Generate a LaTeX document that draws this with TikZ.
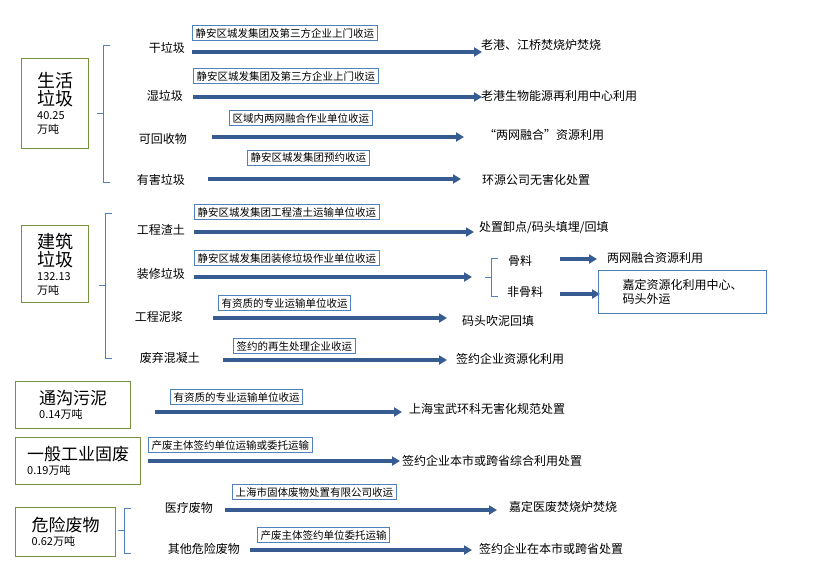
\documentclass[tikz,border=0pt]{standalone}
\usepackage{fontspec}
\newfontfamily\cjk{Noto Sans CJK SC}
\usetikzlibrary{arrows.meta,positioning}
\definecolor{flowblue}{RGB}{54,92,145}
\definecolor{boxblue}{RGB}{79,129,189}
\definecolor{groupgreen}{RGB}{118,146,60}
\newcommand{\grpbig}{\fontsize{18}{22}\selectfont}
\newcommand{\grpmid}{\fontsize{17}{20}\selectfont}
\newcommand{\grpsml}{\fontsize{11}{13}\selectfont}
\tikzset{
  every node/.style={font=\cjk\fontsize{12}{14}\selectfont,inner sep=1pt},
  flow/.style={draw=flowblue,line width=3.2pt,-{Triangle[length=8pt,width=9pt]}},
  carrier/.style={draw=boxblue,line width=1pt,fill=white,font=\cjk\fontsize{10.5}{12}\selectfont,inner sep=3pt,anchor=west},
  group/.style={draw=groupgreen,line width=1.3pt,align=left,anchor=north west,inner sep=4pt},
  brace/.style={draw=boxblue,line width=1pt},
  item/.style={anchor=east},
  dest/.style={anchor=west}
}
% horizontal arrow between two named coordinates
\newcommand{\flowarrow}[4]{%
  \coordinate (#1s) at (#2,#4);
  \coordinate (#1e) at (#3,#4);
  \draw[flow] (#1s) -- (#1e);}
% bracket with a tick in the middle
\newcommand{\bracket}[4]{%
  \draw[brace] (#1+7,#2) -- (#1,#2) -- (#1,#3) -- (#1+7,#3);
  \draw[brace] (#1,#4) -- (#1-6,#4);}
\begin{document}
\begin{tikzpicture}[x=1pt,y=-1pt]
\useasboundingbox (0,0) rectangle (818,571);
% ---- groups
\node[group,minimum width=67,minimum height=90] (life) at (21,58) {\grpbig 生活\\\grpbig 垃圾\\\grpsml 40.25\\\grpsml 万吨};
\node[group,minimum width=67,minimum height=77] (build) at (21,225) {\grpbig 建筑\\\grpbig 垃圾\\\grpsml 132.13\\\grpsml 万吨};
\node[group,minimum width=115,minimum height=47] (sludge) at (15,381) {\grpmid 通沟污泥\\\grpsml 0.14万吨};
\node[group,minimum width=125,minimum height=47] (indus) at (15,437) {\grpmid 一般工业固废\\\grpsml 0.19万吨};
\node[group,minimum width=100,minimum height=49] (hazard) at (15,507) {\grpmid 危险废物\\\grpsml 0.62万吨};
% ---- brackets
\bracket{103}{45}{182}{113}
\bracket{105}{213}{358}{285}
\bracket{124}{508}{553}{530}
\bracket{491}{258}{296}{277}
% ---- 生活垃圾
\node[item] (dry) at (186,48) {干垃圾};
\flowarrow{dryf}{192}{482}{52}
\node[carrier] (dryc) at (192,33) {静安区城发集团及第三方企业上门收运};
\node[dest] (dryd) at (480,45) {老港、江桥焚烧炉焚烧};
\node[item] (wet) at (184,96) {湿垃圾};
\flowarrow{wetf}{193}{482}{97}
\node[carrier] (wetc) at (193,76) {静安区城发集团及第三方企业上门收运};
\node[dest] (wetd) at (480,96) {老港生物能源再利用中心利用};
\node[item] (recy) at (188,139) {可回收物};
\flowarrow{recyf}{212}{464}{137}
\node[carrier] (recyc) at (229,118) {区域内两网融合作业单位收运};
\node[dest] (recyd) at (483,135) {“两网融合”资源利用};
\node[item] (harm) at (186,180) {有害垃圾};
\flowarrow{harmf}{208}{461}{179}
\node[carrier] (harmc) at (247,158) {静安区城发集团预约收运};
\node[dest] (harmd) at (481,180) {环源公司无害化处置};
% ---- 建筑垃圾
\node[item] (muck) at (186,230) {工程渣土};
\flowarrow{muckf}{194}{474}{232}
\node[carrier] (muckc) at (194,212) {静安区城发集团工程渣土运输单位收运};
\node[dest] (muckd) at (478,228) {处置卸点/码头填埋/回填};
\node[item] (deco) at (186,274) {装修垃圾};
\flowarrow{decof}{194}{472}{277}
\node[carrier] (decoc) at (194,258) {静安区城发集团装修垃圾作业单位收运};
\node (agg) at (520,261) {骨料};
\node (nagg) at (525,292) {非骨料};
\flowarrow{aggf}{560}{597}{259}
\flowarrow{naggf}{560}{600}{294}
\node[dest] (aggd) at (606,258) {两网融合资源利用};
\node[draw=boxblue,line width=1pt,align=left,anchor=north west,inner sep=3pt,minimum width=168,minimum height=43] (naggd) at (598,270) {嘉定资源化利用中心、\\码头外运};
\node[item] (mud) at (184,317) {工程泥浆};
\flowarrow{mudf}{213}{447}{318}
\node[carrier] (mudc) at (218,303) {有资质的专业运输单位收运};
\node[dest] (mudd) at (461,321) {码头吹泥回填};
\node[item] (conc) at (201,358) {废弃混凝土};
\flowarrow{concf}{223}{447}{360}
\node[carrier] (concc) at (233,346) {签约的再生处理企业收运};
\node[dest] (concd) at (455,359) {签约企业资源化利用};
% ---- 通沟污泥 / 一般工业固废
\flowarrow{sludgef}{155}{402}{412}
\node[carrier] (sludgec) at (170,397) {有资质的专业运输单位收运};
\node[dest] (sludged) at (408,409) {上海宝武环科无害化规范处置};
\flowarrow{indusf}{148}{400}{461}
\node[carrier] (indusc) at (148,445) {产废主体签约单位运输或委托运输};
\node[dest] (indusd) at (401,461) {签约企业本市或跨省综合利用处置};
% ---- 危险废物
\node[item] (med) at (214,508) {医疗废物};
\flowarrow{medf}{225}{497}{510}
\node[carrier] (medc) at (232,492) {上海市固体废物处置有限公司收运};
\node[dest] (medd) at (508,507) {嘉定医废焚烧炉焚烧};
\node[item] (other) at (241,549) {其他危险废物};
\flowarrow{otherf}{250}{472}{550}
\node[carrier] (otherc) at (257,535) {产废主体签约单位委托运输};
\node[dest] (otherd) at (478,549) {签约企业在本市或跨省处置};
\end{tikzpicture}
\end{document}
